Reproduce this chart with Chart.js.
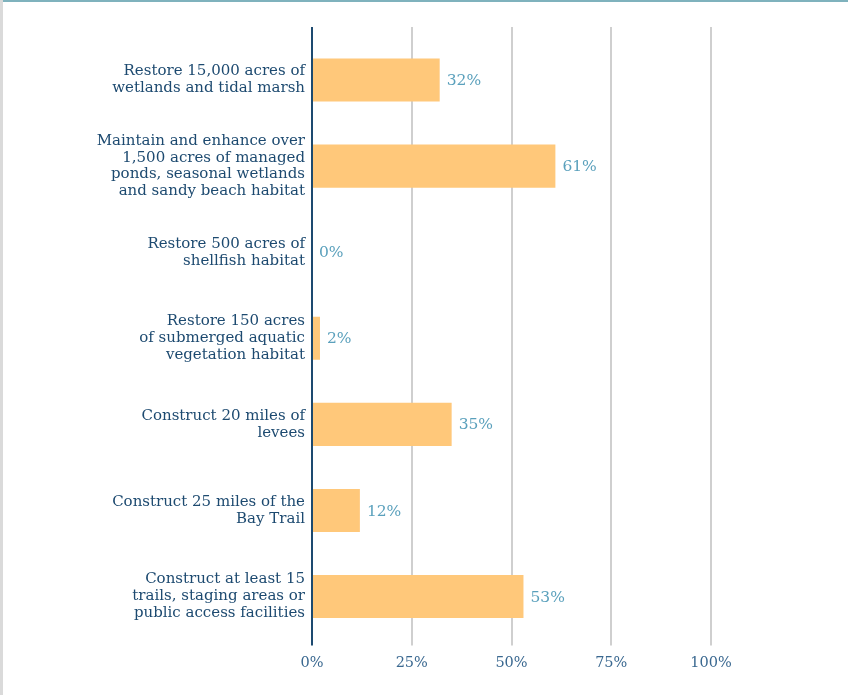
<!DOCTYPE html>
<html>
<head>
<meta charset="utf-8">
<script src="https://cdn.jsdelivr.net/npm/chart.js@4/dist/chart.umd.min.js"></script>
<style>
  html, body { margin: 0; padding: 0; background: #fff; }
  #wrap { position: relative; width: 848px; height: 695px; }
  #edgeTop { position: absolute; left: 0; top: 0; width: 848px; height: 2px; background: #7fb2bd; }
  #edgeLeft { position: absolute; left: 0; top: 0; width: 3px; height: 695px; background: #dadada; }
</style>
</head>
<body>
<div id="wrap">
  <canvas id="chart" width="848" height="695"></canvas>
  <div id="edgeTop"></div>
  <div id="edgeLeft"></div>
</div>
<script>
'use strict'

const categories = [
    ["Restore 15,000 acres of", "wetlands and tidal marsh"],
    ["Maintain and enhance over", "1,500 acres of managed", "ponds, seasonal wetlands", "and sandy beach habitat"],
    ["Restore 500 acres of", "shellfish habitat"],
    ["Restore 150 acres", "of submerged aquatic", "vegetation habitat"],
    ["Construct 20 miles of", "levees"],
    ["Construct 25 miles of the", "Bay Trail"],
    ["Construct at least 15", "trails, staging areas or", "public access facilities"]
];
const percentComplete = [32, 61, 0, 2, 35, 12, 53];
const xTicks = [0, 25, 50, 75, 100];

const navy = "#1d4a70";
const labelFont = { family: "'DejaVu Serif', serif", size: 15, lineHeight: 1.13 };

function gridColor(ctx) {
    return ctx.tick && ctx.tick.value === 0 ? navy : "#cfcfcf";
}

// value labels next to each bar
const valueLabels = {
    id: "valueLabels",
    afterDatasetsDraw(chart) {
        const ctx = chart.ctx;
        const meta = chart.getDatasetMeta(0);
        ctx.save();
        ctx.font = "15.5px 'DejaVu Serif', serif";
        ctx.fillStyle = "#5aa0bc";
        ctx.textAlign = "left";
        ctx.textBaseline = "middle";
        meta.data.forEach((bar, i) => {
            ctx.fillText(percentComplete[i] + "%", bar.x + 7, bar.y + 1);
        });
        ctx.restore();
    }
};

new Chart(document.getElementById("chart"), {
    type: "bar",
    data: {
        labels: categories,
        datasets: [{
            data: percentComplete,
            backgroundColor: "#ffc87a",
            borderWidth: 0,
            barPercentage: 0.5,
            categoryPercentage: 1
        }]
    },
    options: {
        indexAxis: "y",
        responsive: false,
        animation: false,
        layout: { padding: { top: 27, right: 137, bottom: 14, left: 0 } },
        plugins: {
            legend: { display: false },
            tooltip: { enabled: false }
        },
        scales: {
            x: {
                min: 0,
                max: 100,
                afterBuildTicks: (scale) => { scale.ticks = xTicks.map(v => ({ value: v })); },
                grid: { color: gridColor, lineWidth: 2, tickLength: 6, tickColor: gridColor },
                border: { display: false },
                ticks: {
                    padding: 9,
                    color: "#3a6890",
                    font: { family: "'DejaVu Serif', serif", size: 14.5 },
                    callback: (v) => v + "%"
                }
            },
            x2: {
                position: "top",
                min: 0,
                max: 100,
                afterBuildTicks: (scale) => { scale.ticks = xTicks.map(v => ({ value: v })); },
                grid: { drawOnChartArea: false, color: gridColor, lineWidth: 2, tickLength: 10 },
                border: { display: false },
                ticks: { display: false }
            },
            y: {
                afterFit: (scale) => { scale.width = 312; },
                grid: { display: false, drawTicks: false },
                border: { display: false },
                ticks: {
                    padding: 7,
                    color: navy,
                    font: labelFont
                }
            }
        }
    },
    plugins: [valueLabels]
});
</script>
</body>
</html>
